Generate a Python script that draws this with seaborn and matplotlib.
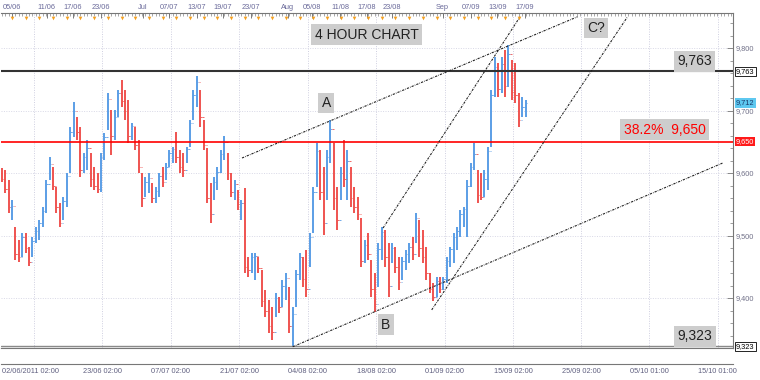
import numpy as np
import pandas as pd
import seaborn as sns
import matplotlib
matplotlib.use("Agg")
import matplotlib.pyplot as plt
import matplotlib.transforms as mtransforms
from matplotlib.ticker import MultipleLocator

# 12h bars, x = trading days since 02/06/2011
highs = [9608, 9605, 9589, 9557, 9514, 9493, 9504, 9504, 9482, 9498,
         9514, 9525, 9546, 9589, 9626, 9610, 9578, 9552, 9562, 9600,
         9674, 9714, 9690, 9674, 9632, 9653, 9632, 9610, 9600, 9632,
         9664, 9728, 9701, 9701, 9733, 9749, 9733, 9717, 9680, 9674,
         9653, 9600, 9594, 9600, 9584, 9578, 9600, 9610, 9616, 9637,
         9642, 9666, 9637, 9632, 9642, 9685, 9733, 9755, 9733, 9685,
         9640, 9584, 9594, 9610, 9637, 9659, 9632, 9600, 9589, 9573,
         9557, 9576, 9466, 9472, 9472, 9466, 9445, 9413, 9397, 9386,
         9408, 9402, 9429, 9440, 9418, 9386, 9445, 9472, 9466, 9477,
         9504, 9578, 9648, 9637, 9610, 9637, 9685, 9648, 9578, 9610,
         9653, 9637, 9610, 9578, 9562, 9528, 9493, 9504, 9461, 9440,
         9488, 9514, 9509, 9488, 9488, 9482, 9466, 9466, 9477, 9488,
         9498, 9536, 9525, 9509, 9482, 9440, 9424, 9434, 9434, 9434,
         9466, 9482, 9504, 9514, 9541, 9546, 9589, 9616, 9648, 9605,
         9600, 9605, 9642, 9733, 9786, 9776, 9786, 9797, 9805, 9781,
         9776, 9728, 9722, 9717]
lows = [9586, 9568, 9536, 9525, 9461, 9458, 9466, 9472, 9451, 9466,
        9488, 9493, 9514, 9536, 9589, 9573, 9536, 9514, 9525, 9546,
        9600, 9658, 9653, 9594, 9600, 9605, 9578, 9573, 9568, 9570,
        9621, 9669, 9629, 9653, 9690, 9706, 9685, 9648, 9653, 9637,
        9600, 9546, 9562, 9568, 9552, 9552, 9562, 9578, 9589, 9610,
        9616, 9616, 9600, 9594, 9616, 9642, 9685, 9706, 9674, 9637,
        9552, 9520, 9557, 9573, 9600, 9621, 9589, 9562, 9557, 9541,
        9525, 9440, 9434, 9440, 9429, 9440, 9386, 9370, 9344, 9333,
        9370, 9376, 9386, 9397, 9344, 9322, 9386, 9429, 9418, 9402,
        9450, 9504, 9578, 9557, 9501, 9557, 9616, 9541, 9509, 9557,
        9578, 9557, 9546, 9536, 9525, 9450, 9456, 9461, 9402, 9378,
        9418, 9461, 9450, 9402, 9456, 9440, 9413, 9429, 9445, 9456,
        9461, 9488, 9466, 9456, 9429, 9408, 9395, 9402, 9408, 9413,
        9424, 9450, 9456, 9477, 9498, 9514, 9498, 9578, 9605, 9552,
        9557, 9562, 9573, 9642, 9722, 9722, 9728, 9722, 9738, 9717,
        9712, 9674, 9690, 9690]
closes = [9590, 9575, 9545, 9548, 9470, 9465, 9498, 9480, 9458, 9492,
          9508, 9520, 9540, 9582, 9615, 9580, 9545, 9520, 9555, 9595,
          9665, 9700, 9665, 9605, 9625, 9640, 9590, 9580, 9575, 9625,
          9658, 9718, 9660, 9690, 9728, 9715, 9700, 9660, 9675, 9645,
          9610, 9560, 9585, 9592, 9560, 9572, 9595, 9585, 9610, 9632,
          9638, 9625, 9610, 9605, 9638, 9680, 9725, 9745, 9690, 9645,
          9560, 9535, 9585, 9602, 9630, 9650, 9600, 9570, 9582, 9550,
          9552, 9450, 9445, 9465, 9468, 9448, 9395, 9380, 9355, 9345,
          9400, 9385, 9420, 9432, 9355, 9375, 9438, 9465, 9430, 9415,
          9498, 9570, 9635, 9570, 9520, 9625, 9670, 9560, 9525, 9600,
          9590, 9620, 9560, 9545, 9535, 9460, 9485, 9470, 9415, 9390,
          9478, 9505, 9465, 9420, 9480, 9450, 9425, 9460, 9470, 9482,
          9470, 9528, 9480, 9465, 9440, 9415, 9402, 9428, 9415, 9430,
          9460, 9478, 9498, 9508, 9535, 9542, 9580, 9610, 9630, 9565,
          9562, 9590, 9635, 9725, 9770, 9735, 9775, 9740, 9790, 9730,
          9725, 9685, 9705, 9712]
first_open = 9600

top_labels = ["05/06", "11/06", "17/06", "23/06", "Jul", "07/07", "13/07", "19/07", "23/07",
              "Aug", "05/08", "11/08", "17/08", "23/08", "Sep", "07/09", "13/09", "17/09"]
top_days = [1.5, 6.6, 10.4, 14.5, 20.6, 24.4, 28.5, 32.3, 36.4,
            41.8, 45.3, 49.4, 53.3, 57.0, 64.4, 68.5, 72.4, 76.4]
bottom_labels = ["02/06/2011 02:00", "", "23/06 02:00", "07/07 02:00", "21/07 02:00", "04/08 02:00",
                 "18/08 02:00", "01/09 02:00", "15/09 02:00", "25/09 02:00", "05/10 01:00", "15/10 01:00"]
bottom_days = [0, 4.7, 14.7, 24.7, 34.7, 44.7, 54.7, 64.7, 74.7, 84.6, 94.6, 104.6]

resistance = 9763
fib_level = 9650
swing_low = 9323
last_price = 9712

# trend lines: (day0, price0, day1, price1)
trend_lines = [(42.5, 9322, 105.3, 9616),
               (35.1, 9624, 84.1, 9850),
               (55.7, 9512, 75.7, 9850),
               (62.8, 9381, 91.4, 9850)]

df = pd.DataFrame({"high": highs, "low": lows, "close": closes})
df["day"] = np.arange(len(df)) * 0.5
df["open"] = df["close"].shift(1).fillna(first_open)
df["up"] = df["close"] >= df["open"]

sns.set_theme(style="white")
plt.rcParams["font.family"] = ["Liberation Sans", "DejaVu Sans"]

W, H = 760, 380
fig = plt.figure(figsize=(7.6, 3.8), dpi=100)
fig.patch.set_facecolor("white")
ax = fig.add_axes([1 / W, (H - 348) / H, 732 / W, 335 / H])
ax_b = fig.add_axes([1 / W, (H - 364) / H, 732 / W, 16 / H])

x0, x1 = -0.1, 106.8
ax.set_xlim(x0, x1)
ax_b.set_xlim(x0, x1)
ax.set_ylim(9320, 9856)

# grid
grid_col = "#cfcfe0"
for d in bottom_days[1:]:
    ax.axvline(d, color=grid_col, lw=0.7, ls=(0, (1, 1.5)), zorder=0)
for p in [9400, 9500, 9600, 9700, 9800]:
    ax.axhline(p, color="#d8d8e6", lw=0.7, ls=(0, (1, 1.5)), zorder=0)

# OHLC bars
up_col, dn_col = "#5b9ee6", "#ef5350"
for up, col in [(True, up_col), (False, dn_col)]:
    sub = df[df["up"] == up]
    ax.vlines(sub["day"], sub["low"], sub["high"], color=col, lw=1.4, zorder=3)
    ax.hlines(sub["open"], sub["day"] - 0.22, sub["day"], color=col, lw=0.6, zorder=3)
    ax.hlines(sub["close"], sub["day"], sub["day"] + 0.22, color=col, lw=0.6, zorder=3)

# levels
ax.axhline(resistance, color="#333333", lw=1.5, zorder=4)
ax.axhline(fib_level, color="#ff0000", lw=1.2, zorder=4)
ax.axhline(swing_low, color="#8a8a8a", lw=1.0, zorder=4)

for d0, p0, d1, p1 in trend_lines:
    sns.lineplot(x=[d0, d1], y=[p0, p1], ax=ax, color="#222222", lw=0.8,
                 linestyle=(0, (2, 1, 0.6, 1)), zorder=5)

box = dict(boxstyle="square,pad=0.25", fc="#cdcdcd", ec="none")
ax.text(53.3, 9821, "4 HOUR CHART", fontsize=10, color="#222222", ha="center", va="center", bbox=box, zorder=6)
ax.text(47.4, 9712, "A", fontsize=10, color="#222222", ha="center", va="center", bbox=box, zorder=6)
ax.text(56.1, 9357, "B", fontsize=10, color="#222222", ha="center", va="center", bbox=box, zorder=6)
ax.text(86.8, 9832, "C?", fontsize=10, color="#222222", ha="center", va="center", bbox=box, zorder=6)
ax.text(101.2, 9779, f"{resistance:,}", fontsize=10, color="#222222", ha="center", va="center", bbox=box, zorder=6)
ax.text(96.8, 9669, f"38.2%  {fib_level:,}", fontsize=10, color="#ff0000", ha="center", va="center", bbox=box, zorder=6)
ax.text(101.2, 9339, f"{swing_low:,}", fontsize=10, color="#222222", ha="center", va="center", bbox=box, zorder=6)

# spines
ax.spines["left"].set_visible(False)
for s in ["top", "bottom", "right"]:
    ax.spines[s].set_color("#777777")
    ax.spines[s].set_linewidth(0.8)

# right price axis
ax.yaxis.tick_right()
ax.set_yticks([9400, 9500, 9600, 9700, 9800])
ax.set_yticklabels([f"{v:,}" for v in [9400, 9500, 9600, 9700, 9800]])
ax.yaxis.set_minor_locator(MultipleLocator(20))
ax.tick_params(axis="y", which="major", direction="in", length=4, width=0.6, color="#777777",
               labelsize=5.3, labelcolor="#707088", pad=2)
ax.tick_params(axis="y", which="minor", direction="in", length=2.5, width=0.5, color="#777777")

trans = mtransforms.blended_transform_factory(ax.transAxes, ax.transData)
tag = dict(fontsize=5.3, ha="left", va="center", transform=trans, clip_on=False, zorder=7)
ax.text(1.004, resistance, f"{resistance:,}", color="black",
        bbox=dict(boxstyle="square,pad=0.15", fc="white", ec="black", lw=0.6), **tag)
ax.text(1.004, last_price, f"{last_price:,}", color="#1a3a6a",
        bbox=dict(boxstyle="square,pad=0.15", fc="#5ec8f0", ec="none"), **tag)
ax.text(1.004, fib_level, f"{fib_level:,}", color="white",
        bbox=dict(boxstyle="square,pad=0.15", fc="#ff1a1a", ec="none"), **tag)
ax.text(1.004, swing_low, f"{swing_low:,}", color="black",
        bbox=dict(boxstyle="square,pad=0.15", fc="white", ec="black", lw=0.6), **tag)

# top date ruler
ax.set_xticks(top_days)
ax.set_xticklabels(top_labels)
ax.xaxis.set_minor_locator(MultipleLocator(0.5))
ax.tick_params(axis="x", which="both", top=True, bottom=False, labeltop=True, labelbottom=False,
               direction="in", color="#666666")
ax.tick_params(axis="x", which="major", length=3.5, width=0.6, labelsize=5.3, labelcolor="#6a6a9a", pad=1.5)
ax.tick_params(axis="x", which="minor", length=2, width=0.4)
trans_top = mtransforms.blended_transform_factory(ax.transData, ax.transAxes)
marks = np.arange(1.5, 77, 2.0)
ax.scatter(marks, np.full(len(marks), 0.985), marker="v", s=7,
           color="#f5a020", transform=trans_top, clip_on=False, zorder=7, linewidths=0)

# bottom date ruler
ax_b.set_ylim(0, 1)
ax_b.set_yticks([])
ax_b.set_xticks(bottom_days)
ax_b.set_xticklabels(bottom_labels)
ax_b.xaxis.set_minor_locator(MultipleLocator(1))
ax_b.tick_params(axis="x", which="major", direction="in", length=11.5, width=0.6, color="#666666",
                 labelsize=5.3, labelcolor="#606080", pad=3)
ax_b.tick_params(axis="x", which="minor", direction="in", length=2.5, width=0.5, color="#666666")
ax_b.get_xticklabels()[0].set_ha("left")
for s in ["left", "right"]:
    ax_b.spines[s].set_visible(False)
for s in ["top", "bottom"]:
    ax_b.spines[s].set_color("#777777")
    ax_b.spines[s].set_linewidth(0.8)
ax_b.set_facecolor("white")

fig.savefig("out.png", dpi=100)
